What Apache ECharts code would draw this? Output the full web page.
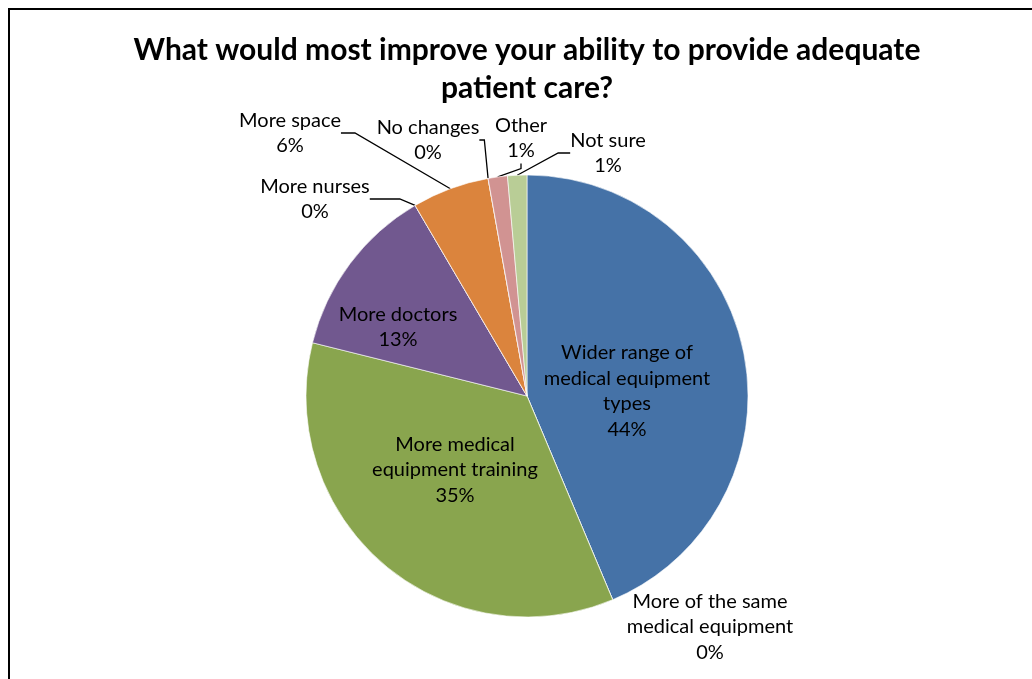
<!DOCTYPE html>
<html>
<head>
<meta charset="utf-8">
<script src="https://cdn.jsdelivr.net/npm/echarts@6/dist/echarts.min.js"></script>
<style>
  html, body { margin: 0; padding: 0; background: #fff; }
  #chart { width: 1032px; height: 679px; }
</style>
</head>
<body>
<div id="chart"></div>
<script>
// Survey answers, in slice order (clockwise from 12 o'clock)
const categories = [
  'Wider range of medical equipment types',
  'More of the same medical equipment',
  'More medical equipment training',
  'More doctors',
  'More nurses',
  'More space',
  'No changes',
  'Other',
  'Not sure'
];
// Number of respondents choosing each answer
const responses = [31, 0, 25, 9, 0, 4, 0, 1, 1];
// Wrapped label text for each answer
const labelText = [
  'Wider range of\nmedical equipment\ntypes',
  'More of the same\nmedical equipment',
  'More medical\nequipment training',
  'More doctors',
  'More nurses',
  'More space',
  'No changes',
  'Other',
  'Not sure'
];
const titleText = 'What would most improve your ability to provide adequate\npatient care?';

// Office-style slice palette
const palette = ['#4572A7', '#AA4643', '#89A54E', '#71588F', '#4198AF', '#DB843D', '#93A9CF', '#D19392', '#B9CD96'];

// Label placement: centre point of each label block, and leader-line settings
const labelCenter = [
  [627, 391], [710, 627], [455, 470], [398, 327], [315, 199],
  [290, 133], [428, 140], [521, 138], [608, 153]
];
const insideLabel = [true, false, true, true, false, false, false, false, false];
const leaderShown = [false, false, false, false, true, true, true, true, true];
const leaderTail = [0, 0, 0, 0, 30, 14, 5, 5, 12];

const FONT = 'Lato';

const chart = echarts.init(document.getElementById('chart'), null, { renderer: 'canvas' });

const pieData = categories.map((name, i) => ({
  name: name,
  value: responses[i],
  itemStyle: { color: palette[i] },
  label: { position: insideLabel[i] ? 'inside' : 'outside' },
  labelLine: { show: leaderShown[i], length2: leaderTail[i] }
}));

chart.setOption({
  animation: false,
  backgroundColor: '#fff',
  graphic: [{
    // chart title, centred over the pie
    type: 'text',
    x: 527,
    y: 31,
    style: {
      text: titleText,
      font: 'bold 30px ' + FONT,
      lineHeight: 38,
      fill: '#000',
      align: 'center',
      verticalAlign: 'top'
    },
    silent: true
  }, {
    // outer frame
    type: 'rect',
    shape: { x: 9, y: 9, width: 1100, height: 1000 },
    style: { fill: 'none', stroke: '#000', lineWidth: 2 },
    silent: true,
    z: 100
  }],
  series: [{
    type: 'pie',
    center: [527, 396],
    radius: [0, 221],
    startAngle: 90,
    clockwise: true,
    avoidLabelOverlap: false,
    percentPrecision: 0,
    itemStyle: { borderColor: '#fff', borderWidth: 0.6 },
    label: {
      show: true,
      formatter: (p) => labelText[p.dataIndex] + '\n' + p.percent + '%',
      fontFamily: FONT,
      fontSize: 20,
      lineHeight: 25.5,
      color: '#000',
      align: 'center',
      textBorderWidth: 0
    },
    labelLine: {
      show: true,
      lineStyle: { color: '#000', width: 1.3 }
    },
    labelLayout: (params) => {
      const c = labelCenter[params.dataIndex];
      return { x: c[0], y: c[1], align: 'center', verticalAlign: 'middle', hideOverlap: false };
    },
    emphasis: { disabled: true },
    data: pieData
  }]
});
</script>
</body>
</html>
